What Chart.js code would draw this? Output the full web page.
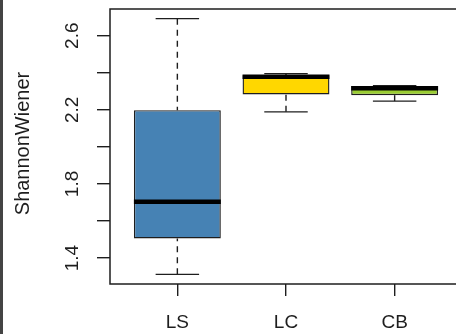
<!DOCTYPE html>
<html>
<head>
<meta charset="utf-8">
<script src="https://cdn.jsdelivr.net/npm/chart.js@4.4.0/dist/chart.umd.min.js"></script>
<style>
  html, body { margin: 0; padding: 0; background: #fff; overflow: hidden; }
  #wrap { position: relative; width: 464px; height: 334px; }
  #strip { position: absolute; left: 0; top: 0; width: 3px; height: 334px; background: #444; }
</style>
</head>
<body>
<div id="wrap">
  <canvas id="c" width="464" height="334"></canvas>
  <div id="strip"></div>
</div>
<script>
// ---- data ----
const categories  = ['LS', 'LC', 'CB'];
const whiskerLow  = [1.312, 2.189, 2.247];
const q1          = [1.506, 2.283, 2.279];
const median      = [1.704, 2.378, 2.317];
const q3          = [2.198, 2.386, 2.328];
const whiskerHigh = [2.692, 2.395, 2.330];
const yTickValues  = [1.4, 1.6, 1.8, 2.0, 2.2, 2.4, 2.6];
const yLabelValues = [1.4, 1.8, 2.2, 2.6];
const yTitle = 'ShannonWiener';

// ---- styles ----
const boxColors = ['#4682B4', '#FFD700', '#9ACD32'];
const ink = '#1e1e1e';
const FONT = '"Liberation Sans", Arial, sans-serif';
const BOX_HALF = 0.4, CAP_HALF = 0.2;

const boxPlugin = {
  id: 'boxParts',
  afterDatasetsDraw(chart) {
    const { ctx, scales: { x, y } } = chart;
    const seg = (x1, y1, x2, y2) => { ctx.beginPath(); ctx.moveTo(x1, y1); ctx.lineTo(x2, y2); ctx.stroke(); };
    ctx.save();
    ctx.strokeStyle = ink;
    ctx.lineCap = 'butt';
    categories.forEach((c, i) => {
      const v = i + 1;
      const xc = x.getPixelForValue(v);
      const capL = x.getPixelForValue(v - CAP_HALF), capR = x.getPixelForValue(v + CAP_HALF);
      const boxL = x.getPixelForValue(v - BOX_HALF), boxR = x.getPixelForValue(v + BOX_HALF);
      ctx.lineWidth = 1.4;
      ctx.setLineDash([6, 5]);
      seg(xc, y.getPixelForValue(whiskerHigh[i]), xc, y.getPixelForValue(q3[i]));
      seg(xc, y.getPixelForValue(whiskerLow[i]), xc, y.getPixelForValue(q1[i]));
      ctx.setLineDash([]);
      seg(capL, y.getPixelForValue(whiskerHigh[i]), capR, y.getPixelForValue(whiskerHigh[i]));
      seg(capL, y.getPixelForValue(whiskerLow[i]), capR, y.getPixelForValue(whiskerLow[i]));
      ctx.lineWidth = 4.5;
      ctx.strokeStyle = '#000';
      seg(boxL, y.getPixelForValue(median[i]), boxR, y.getPixelForValue(median[i]));
      ctx.strokeStyle = ink;
    });
    ctx.restore();
  },
  afterDraw(chart) {
    const { ctx, chartArea: a, scales: { y } } = chart;
    ctx.save();
    ctx.strokeStyle = ink;
    ctx.lineWidth = 1.5;
    ctx.strokeRect(a.left, a.top, a.right - a.left, a.bottom - a.top);
    // y tick labels, parallel to the axis
    ctx.fillStyle = ink;
    ctx.font = '19px ' + FONT;
    ctx.textAlign = 'center';
    ctx.textBaseline = 'middle';
    yLabelValues.forEach(v => {
      ctx.save();
      ctx.translate(73, y.getPixelForValue(v));
      ctx.rotate(-Math.PI / 2);
      ctx.fillText(v.toFixed(1), 0, 0);
      ctx.restore();
    });
    // y axis title
    ctx.font = '20px ' + FONT;
    ctx.save();
    ctx.translate(23, (a.top + a.bottom) / 2 - 3);
    ctx.rotate(-Math.PI / 2);
    ctx.fillText(yTitle, 0, 0);
    ctx.restore();
    ctx.restore();
  }
};

new Chart(document.getElementById('c'), {
  type: 'bar',
  data: {
    datasets: [{
      data: categories.map((c, i) => ({ x: i + 1, y: [q1[i], q3[i]] })),
      backgroundColor: boxColors,
      borderColor: ink,
      borderWidth: 1.4,
      borderSkipped: false,
      barPercentage: 0.8,
      categoryPercentage: 1.0
    }]
  },
  options: {
    responsive: false,
    animation: false,
    plugins: { legend: { display: false }, tooltip: { enabled: false } },
    layout: { padding: { top: 9, right: 2, left: 0, bottom: 0 } },
    scales: {
      x: {
        type: 'linear',
        offset: false,
        min: 0.38, max: 3.62,
        afterBuildTicks: s => { s.ticks = categories.map((c, i) => ({ value: i + 1 })); },
        afterFit: s => { s.height = 50; },
        ticks: {
          callback: v => categories[v - 1],
          font: { size: 19, family: FONT },
          color: ink,
          padding: 15,
          maxRotation: 0, autoSkip: false
        },
        grid: { offset: false, drawOnChartArea: false, drawTicks: true, tickLength: 12, color: ink, lineWidth: 1.4 },
        border: { display: false }
      },
      y: {
        type: 'linear',
        min: 1.26, max: 2.744,
        afterBuildTicks: s => { s.ticks = yTickValues.map(v => ({ value: v })); },
        afterFit: s => { s.width = 110; },
        ticks: { display: false },
        grid: { drawOnChartArea: false, drawTicks: true, tickLength: 13, color: ink, lineWidth: 1.4 },
        border: { display: false }
      }
    }
  },
  plugins: [boxPlugin]
});
</script>
</body>
</html>
